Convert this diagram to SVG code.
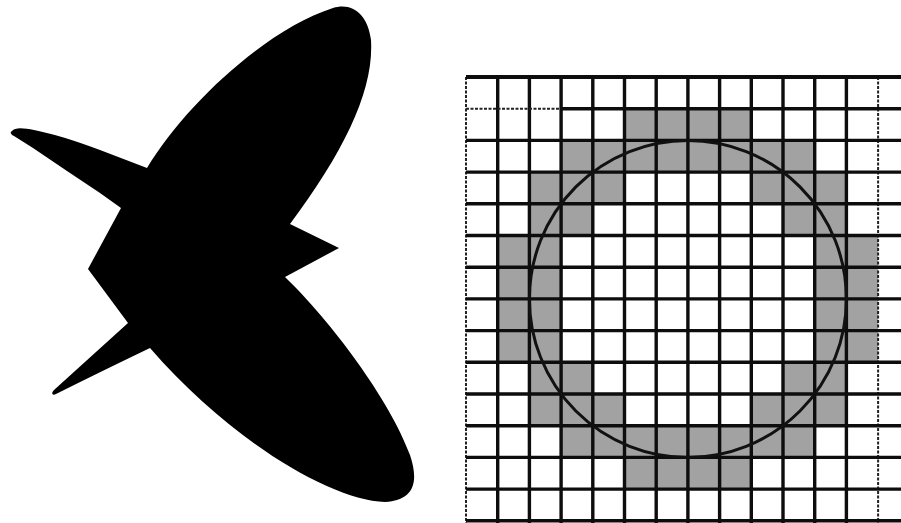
<svg xmlns="http://www.w3.org/2000/svg" width="901" height="523" viewBox="0 0 901 523">
<style>
.shade{fill:#a2a2a2}
.gl{stroke:#0d0d0d;stroke-width:3.4;fill:none}
.gl-light{stroke:#222;stroke-width:2;stroke-dasharray:3 1.5;fill:none}
.circ{fill:none;stroke:#111;stroke-width:3}
</style>
<rect width="901" height="523" fill="#fff"/>
<g id="silhouette">
<path fill="#000" d="M12,131 C15,127 24,128 34,130 Q60,135 100,150 L147,168 C185,105 265,30 333,8 C352,2 368,14 371,40 C374,90 345,150 290,224 L339,248 L285,277 C330,320 390,400 410,455 C420,485 412,500 385,502 C330,500 230,440 150,348 Q100,372 56,394 C52,396 51,393 54,390 L128,323 L88,269 L121,208 L100,193 L67,171 L33,148 L14,136 C10,134 10,132 12,131 Z"/>
</g>
<g id="grid-figure">
<g id="shading">
<rect class="shade" x="624.5" y="108.7" width="126.8" height="31.7"/>
<rect class="shade" x="624.5" y="457.4" width="126.8" height="31.7"/>
<rect class="shade" x="561.1" y="140.4" width="253.6" height="31.7"/>
<rect class="shade" x="561.1" y="425.7" width="253.6" height="31.7"/>
<rect class="shade" x="529.4" y="172.1" width="95.1" height="31.7"/>
<rect class="shade" x="751.3" y="172.1" width="95.1" height="31.7"/>
<rect class="shade" x="529.4" y="394" width="95.1" height="31.7"/>
<rect class="shade" x="751.3" y="394" width="95.1" height="31.7"/>
<rect class="shade" x="529.4" y="203.8" width="63.4" height="31.7"/>
<rect class="shade" x="783" y="203.8" width="63.4" height="31.7"/>
<rect class="shade" x="529.4" y="362.3" width="63.4" height="31.7"/>
<rect class="shade" x="783" y="362.3" width="63.4" height="31.7"/>
<rect class="shade" x="497.7" y="235.5" width="63.4" height="126.8"/>
<rect class="shade" x="814.7" y="235.5" width="63.4" height="126.8"/>
</g>
<g id="gridlines">
<path class="gl-light" d="M466,77V523"/>
<path class="gl" d="M497.7,77V523M529.4,77V523M561.1,77V523M592.8,77V523M624.5,77V523M656.2,77V523M687.9,77V523M719.6,77V523M751.3,77V523M783,77V523M814.7,77V523M846.4,77V523"/>
<path class="gl-light" d="M878.1,77V523"/>
<path stroke="#0d0d0d" stroke-width="4.2" d="M466,77H901"/>
<path class="gl-light" d="M466,108.7H560"/>
<path class="gl" d="M560,108.7H901M466,140.4H901M466,172.1H901M466,203.8H901M466,235.5H901M466,267.2H901M466,298.9H901M466,330.6H901M466,362.3H901M466,394H901M466,425.7H901M466,457.4H901M466,489.1H901M466,520.8H901"/>
</g>
<circle id="circle" class="circ" cx="687.9" cy="298.9" r="158.5"/>
</g>
</svg>
